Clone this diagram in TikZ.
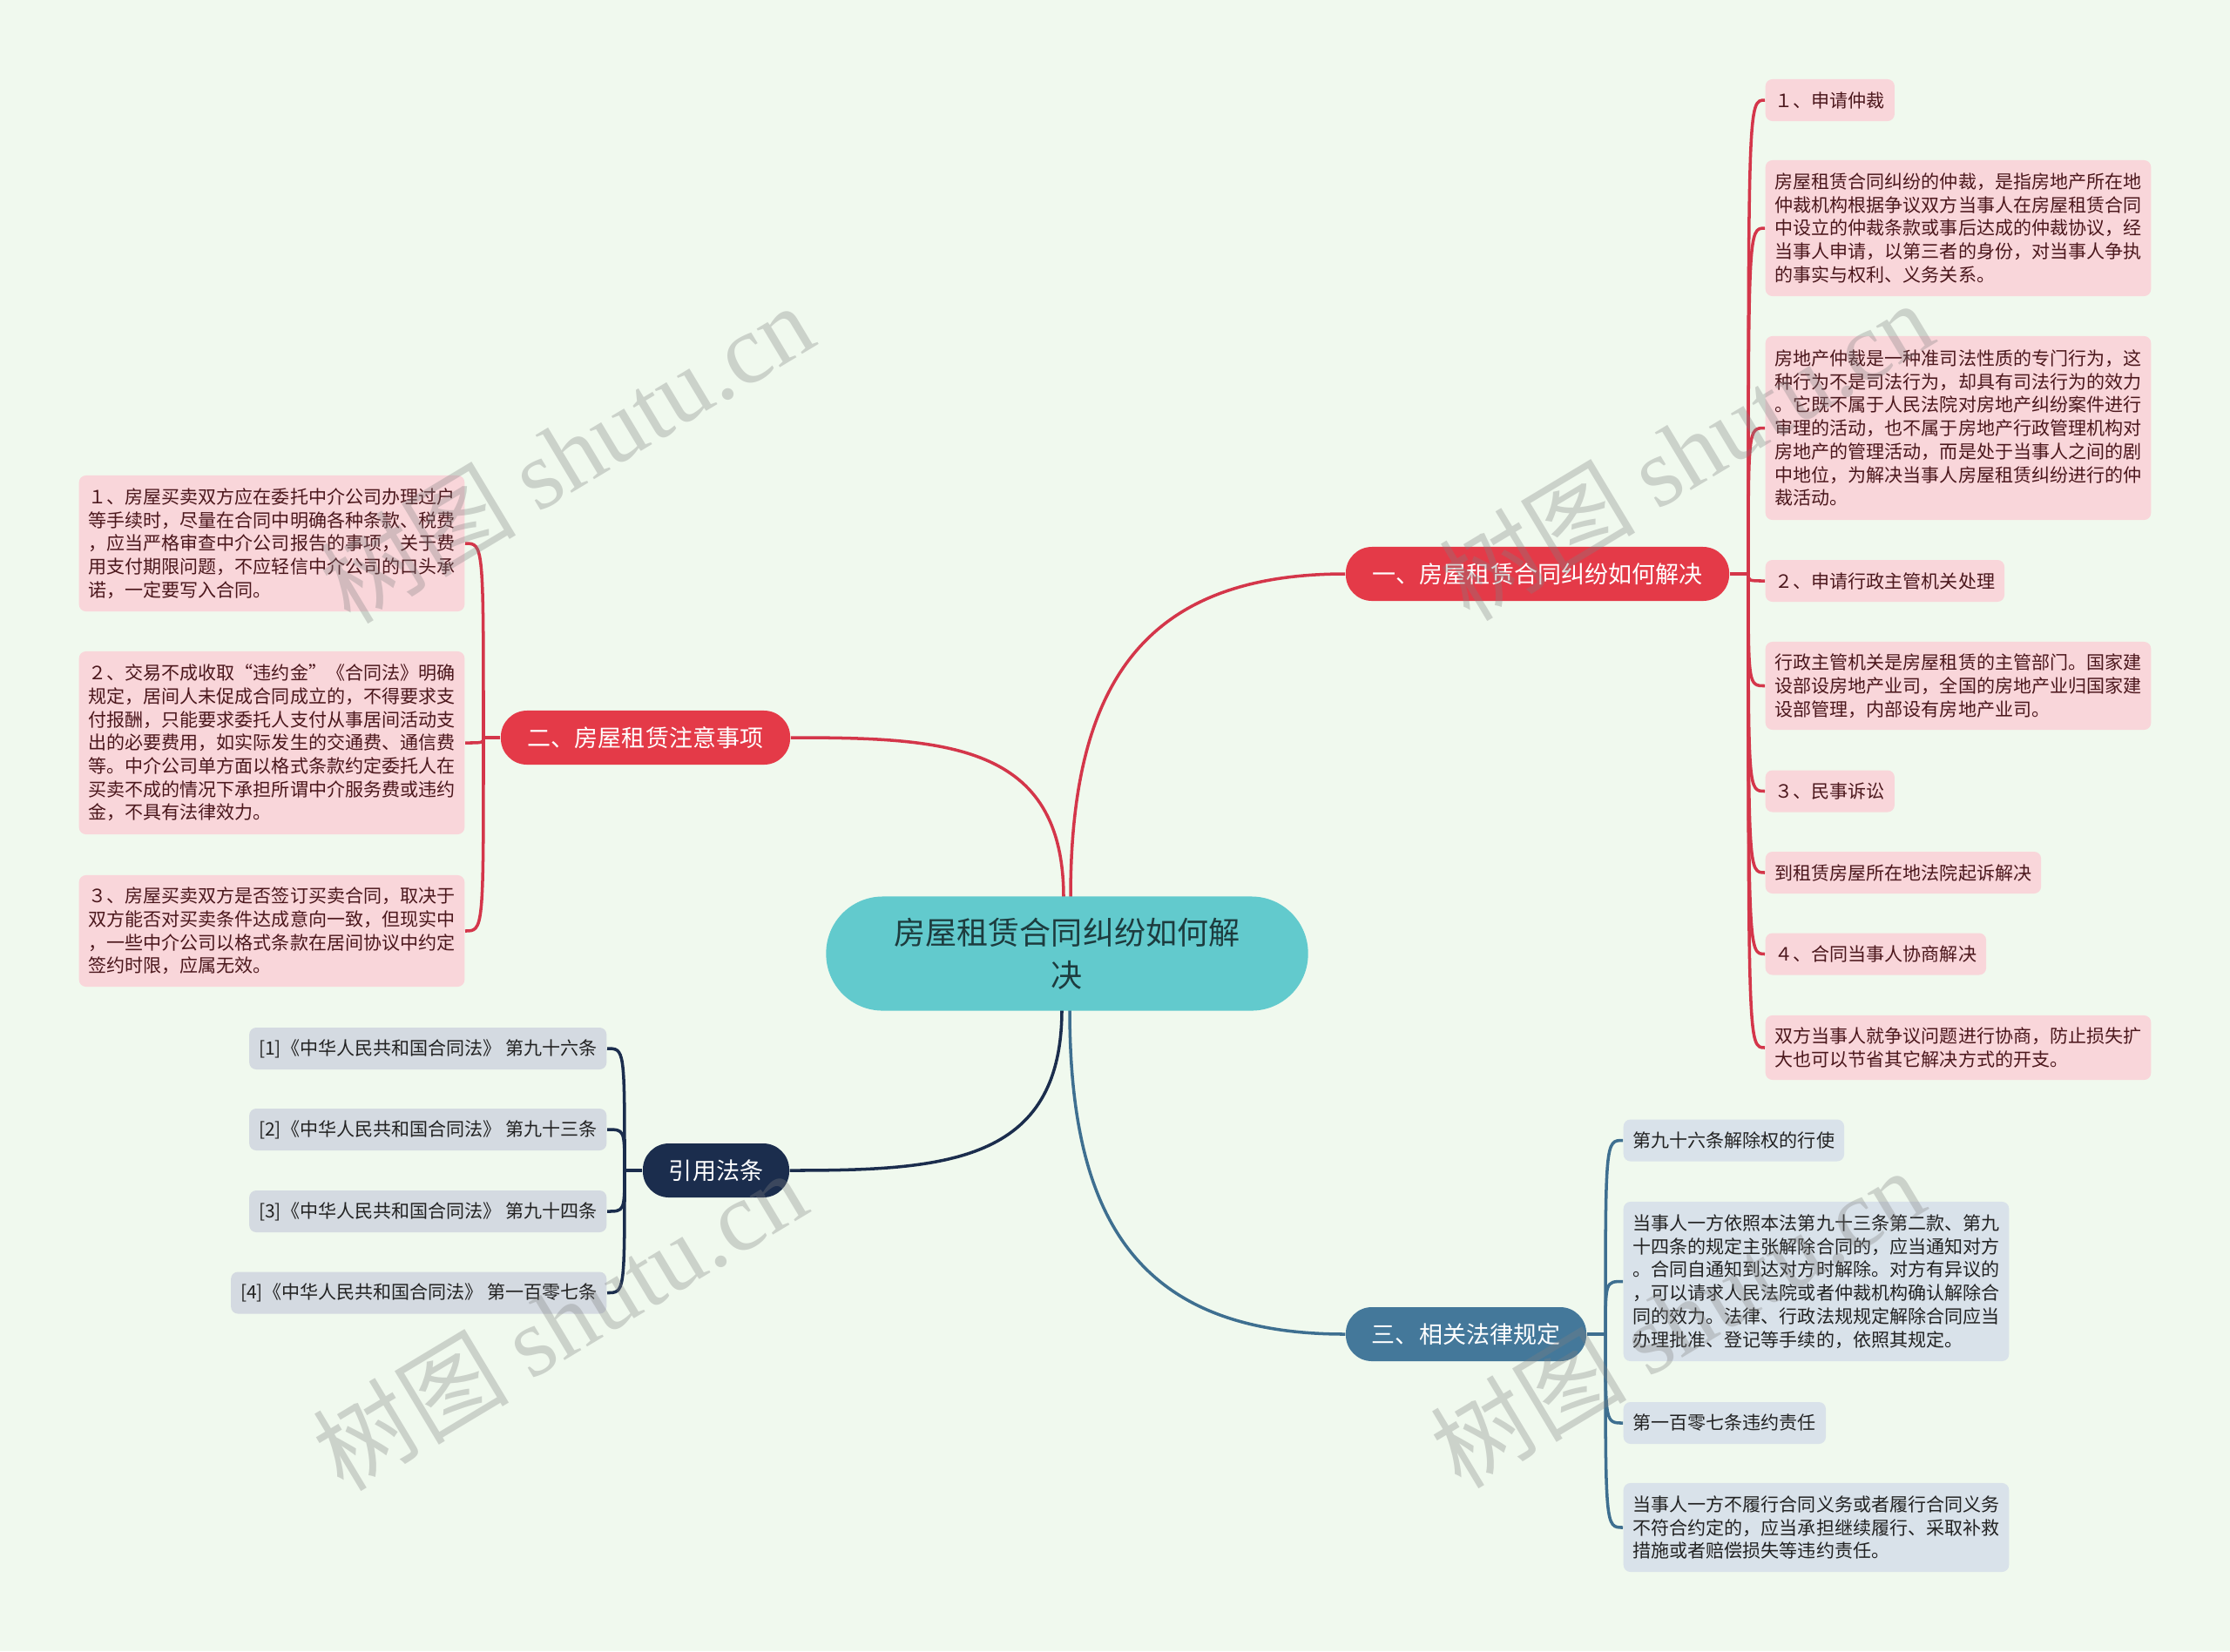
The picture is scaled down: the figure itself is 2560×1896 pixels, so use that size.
\documentclass[tikz,border=0pt]{standalone}
\usepackage{fontspec}
\setmainfont{Noto Sans CJK SC}
\newfontfamily\wmserif{Liberation Serif}
\usetikzlibrary{calc,backgrounds}
\definecolor{bgc}{HTML}{F0F9EE}
\definecolor{cfill}{HTML}{62CACD}
\definecolor{ctext}{HTML}{1D3B3E}
\definecolor{redb}{HTML}{E43A48}
\definecolor{redl}{HTML}{D4364A}
\definecolor{pinkf}{HTML}{F9D6DA}
\definecolor{pinkt}{HTML}{4B171C}
\definecolor{navyb}{HTML}{1B2D4D}
\definecolor{navyf}{HTML}{D4DAE1}
\definecolor{steelb}{HTML}{44789A}
\definecolor{steell}{HTML}{3E6F90}
\definecolor{steelf}{HTML}{D9E2EA}
\definecolor{leaft}{HTML}{222222}
\tikzset{
  leafbase/.style={rounded corners=0.08cm, inner xsep=0.11cm, inner ysep=0pt, align=left,
    font=\fontsize{5.98pt}{7.6pt}\selectfont, minimum height=0.48cm},
  pinkleaf/.style={leafbase, fill=pinkf, text=pinkt},
  navyleaf/.style={leafbase, fill=navyf, text=leaft},
  steelleaf/.style={leafbase, fill=steelf, text=leaft},
  branchbox/.style={rounded corners=0.3cm, inner xsep=0.31cm, inner ysep=0pt, minimum height=0.62cm,
    text=white, font=\fontsize{7.68pt}{9pt}\selectfont},
  centerbox/.style={rounded corners=0.65cm, fill=cfill, text=ctext, align=center,
    minimum width=5.53cm, minimum height=1.31cm, inner sep=0pt,
    font=\fontsize{10.25pt}{13.9pt}\selectfont},
  redline/.style={draw=redl, line width=1pt},
  navyline/.style={draw=navyb, line width=1pt},
  steelline/.style={draw=steell, line width=1pt},
  wmark/.style={text=gray, opacity=0.32, rotate=31, inner sep=0pt}
}
\newcommand\leaflink[3]{\draw[#1] let \p1=(#2), \p2=(#3) in (\p1) .. controls (\x1,\y2) and (\x1,\y2) .. (\p2);}
\begin{document}
\begin{tikzpicture}[x=0.01cm, y=-0.01cm]
\begin{scope}[on background layer]
\fill[bgc] (0,0) rectangle (2560,1896);
\end{scope}
\useasboundingbox (0,0) rectangle (2560,1896);

% central
\node[centerbox] (c) at (1225,1095) {房屋租赁合同纠纷如何解\\决};

% branches
\node[branchbox, fill=redb] (b1) at (1765,659) {一、房屋租赁合同纠纷如何解决};
\node[branchbox, fill=redb] (b2) at (741,847) {二、房屋租赁注意事项};
\node[branchbox, fill=navyb, inner xsep=0.30cm] (b3) at (822,1344) {引用法条};
\node[branchbox, fill=steelb, inner xsep=0.30cm] (b4) at (1683,1532) {三、相关法律规定};

\coordinate (J1) at (2007,659);
\coordinate (J2) at (555,847);
\coordinate (J3) at (717,1344);
\coordinate (J4) at (1843,1532);

% branch 1 leaves
\node[pinkleaf, anchor=west] (r1) at (2026,115) {１、申请仲裁};
\node[pinkleaf, anchor=west, minimum height=1.56cm] (r2) at (2026,262) {房屋租赁合同纠纷的仲裁，是指房地产所在地\\仲裁机构根据争议双方当事人在房屋租赁合同\\中设立的仲裁条款或事后达成的仲裁协议，经\\当事人申请，以第三者的身份，对当事人争执\\的事实与权利、义务关系。};
\node[pinkleaf, anchor=west, minimum height=2.11cm] (r3) at (2026,491.5) {房地产仲裁是一种准司法性质的专门行为，这\\种行为不是司法行为，却具有司法行为的效力\\。它既不属于人民法院对房地产纠纷案件进行\\审理的活动，也不属于房地产行政管理机构对\\房地产的管理活动，而是处于当事人之间的剧\\中地位，为解决当事人房屋租赁纠纷进行的仲\\裁活动。};
\node[pinkleaf, anchor=west] (r4) at (2026,667) {２、申请行政主管机关处理};
\node[pinkleaf, anchor=west, minimum height=1.01cm] (r5) at (2026,787.5) {行政主管机关是房屋租赁的主管部门。国家建\\设部设房地产业司，全国的房地产业归国家建\\设部管理，内部设有房地产业司。};
\node[pinkleaf, anchor=west] (r6) at (2026,908.5) {３、民事诉讼};
\node[pinkleaf, anchor=west] (r7) at (2026,1002) {到租赁房屋所在地法院起诉解决};
\node[pinkleaf, anchor=west] (r8) at (2026,1095.5) {４、合同当事人协商解决};
\node[pinkleaf, anchor=west, minimum height=0.74cm] (r9) at (2026,1203) {双方当事人就争议问题进行协商，防止损失扩\\大也可以节省其它解决方式的开支。};

% branch 2 leaves
\node[pinkleaf, anchor=east, minimum height=1.56cm] (l1) at (534,624) {１、房屋买卖双方应在委托中介公司办理过户\\等手续时，尽量在合同中明确各种条款、税费\\，应当严格审查中介公司报告的事项，关于费\\用支付期限问题，不应轻信中介公司的口头承\\诺，一定要写入合同。};
\node[pinkleaf, anchor=east, minimum height=2.10cm] (l2) at (534,853) {２、交易不成收取“违约金”《合同法》明确\\规定，居间人未促成合同成立的，不得要求支\\付报酬，只能要求委托人支付从事居间活动支\\出的必要费用，如实际发生的交通费、通信费\\等。中介公司单方面以格式条款约定委托人在\\买卖不成的情况下承担所谓中介服务费或违约\\金，不具有法律效力。};
\node[pinkleaf, anchor=east, minimum height=1.28cm] (l3) at (534,1069) {３、房屋买卖双方是否签订买卖合同，取决于\\双方能否对买卖条件达成意向一致，但现实中\\，一些中介公司以格式条款在居间协议中约定\\签约时限，应属无效。};

% branch 3 leaves
\node[navyleaf, anchor=east] (n1) at (697,1204) {[1]《中华人民共和国合同法》 第九十六条};
\node[navyleaf, anchor=east] (n2) at (697,1297) {[2]《中华人民共和国合同法》 第九十三条};
\node[navyleaf, anchor=east] (n3) at (697,1391) {[3]《中华人民共和国合同法》 第九十四条};
\node[navyleaf, anchor=east] (n4) at (697,1484.5) {[4]《中华人民共和国合同法》 第一百零七条};

% branch 4 leaves
\node[steelleaf, anchor=west] (s1) at (1863,1309.5) {第九十六条解除权的行使};
\node[steelleaf, anchor=west, minimum height=1.83cm] (s2) at (1863,1471.5) {当事人一方依照本法第九十三条第二款、第九\\十四条的规定主张解除合同的，应当通知对方\\。合同自通知到达对方时解除。对方有异议的\\，可以请求人民法院或者仲裁机构确认解除合\\同的效力。法律、行政法规规定解除合同应当\\办理批准、登记等手续的，依照其规定。};
\node[steelleaf, anchor=west] (s3) at (1863,1634) {第一百零七条违约责任};
\node[steelleaf, anchor=west, minimum height=1.02cm] (s4) at (1863,1754) {当事人一方不履行合同义务或者履行合同义务\\不符合约定的，应当承担继续履行、采取补救\\措施或者赔偿损失等违约责任。};

\begin{scope}[on background layer]
% central to branches
\draw[redline] ($(c.north)+(4,2)$) to[out=90,in=180,looseness=1.25] (b1.west);
\draw[redline] ($(c.north)+(-4,2)$) to[out=90,in=0,looseness=1.25] (b2.east);
\draw[navyline] ($(c.south)+(-6,-2)$) to[out=-90,in=0,looseness=1.25] (b3.east);
\draw[steelline] ($(c.south)+(3,-2)$) to[out=-90,in=180,looseness=1.25] (b4.west);
% branch to junctions
\draw[redline] (b1.east) -- (J1);
\draw[redline] (b2.west) -- (J2);
\draw[navyline] (b3.west) -- (J3);
\draw[steelline] (b4.east) -- (J4);
\end{scope}
% leaf connectors
\foreach \nd in {r1,r2,r3,r4,r5,r6,r7,r8,r9}{\leaflink{redline}{J1}{\nd.west}}
\foreach \nd in {l1,l2,l3}{\leaflink{redline}{J2}{\nd.east}}
\foreach \nd in {n1,n2,n3,n4}{\leaflink{navyline}{J3}{\nd.east}}
\foreach \nd in {s1,s2,s3,s4}{\leaflink{steelline}{J4}{\nd.west}}

% watermarks
\node[wmark] (w1) at (650,520) {\fontsize{32pt}{32pt}\selectfont 树图 {\wmserif shutu.cn}};
\node[wmark] (w2) at (1935,517) {\fontsize{32pt}{32pt}\selectfont 树图 {\wmserif shutu.cn}};
\node[wmark] (w3) at (642,1516) {\fontsize{32pt}{32pt}\selectfont 树图 {\wmserif shutu.cn}};
\node[wmark] (w4) at (1925,1513) {\fontsize{32pt}{32pt}\selectfont 树图 {\wmserif shutu.cn}};
\end{tikzpicture}
\end{document}
